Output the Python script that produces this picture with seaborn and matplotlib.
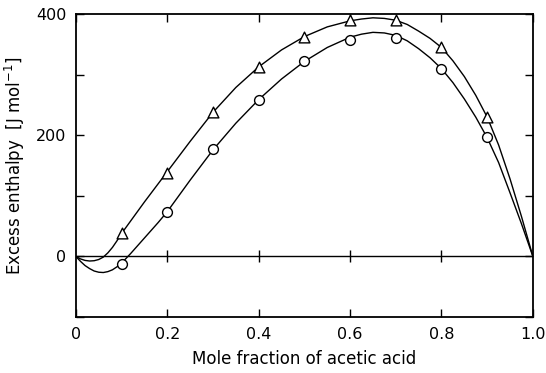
import numpy as np
import pandas as pd
import matplotlib
matplotlib.use("Agg")
import matplotlib.pyplot as plt
import seaborn as sns

# Measured points
x_pts = [0.1, 0.2, 0.3, 0.4, 0.5, 0.6, 0.7, 0.8, 0.9]
tri_pts = [38, 138, 239, 312, 363, 390, 390, 346, 231]
circ_pts = [-12, 73, 177, 259, 323, 357, 360, 310, 197]

# Fitted curves
tri_curve_x = [0, 0.01, 0.02, 0.03, 0.04, 0.05, 0.06, 0.07, 0.08, 0.09, 0.1, 0.125, 0.15, 0.175,
               0.2, 0.25, 0.3, 0.35, 0.4, 0.45, 0.5, 0.55, 0.6, 0.625, 0.65, 0.675, 0.7,
               0.725, 0.75, 0.775, 0.8, 0.825, 0.85, 0.875, 0.9, 0.925, 0.95, 0.975, 1.0]
tri_curve_y = [0, -4, -6.5, -7.5, -7, -5, -1, 6, 15, 26, 38, 64, 90, 115,
               140, 190, 238, 279, 313, 341, 363, 379, 389, 392, 394, 393, 390,
               383, 372, 360, 345, 323, 297, 266, 230, 184, 128, 66, 0]
circ_curve_x = [0, 0.01, 0.02, 0.03, 0.04, 0.05, 0.06, 0.07, 0.08, 0.09, 0.1, 0.11, 0.12, 0.14,
                0.16, 0.18, 0.2, 0.25, 0.3, 0.35, 0.4, 0.45, 0.5, 0.55, 0.6, 0.625, 0.65,
                0.675, 0.7, 0.725, 0.75, 0.775, 0.8, 0.825, 0.85, 0.875, 0.9, 0.925, 0.95, 0.975, 1.0]
circ_curve_y = [0, -8, -15, -20, -24, -26, -26.5, -25, -22, -17, -11, -3, 5, 22,
                39, 56, 74, 126, 176, 220, 259, 293, 322, 345, 362, 367, 370,
                369, 365, 356, 343, 328, 310, 287, 260, 230, 196, 155, 105, 54, 0]

x_ticks = [0, 0.2, 0.4, 0.6, 0.8, 1.0]
x_ticklabels = ["0", "0.2", "0.4", "0.6", "0.8", "1.0"]
y_ticks = [0, 200, 400]
y_minor = [-100, 100, 300]

sns.set_theme(style="ticks")
plt.rcParams['font.family'] = ['DejaVu Sans']
plt.rcParams['text.color'] = 'black'
plt.rcParams['axes.labelcolor'] = 'black'
plt.rcParams['xtick.color'] = 'black'
plt.rcParams['ytick.color'] = 'black'

fig = plt.figure(figsize=(5.46, 3.73), dpi=100)
ax = fig.add_axes([0.139, 0.150, 0.837, 0.812])

tri_df = pd.DataFrame({"x": tri_curve_x, "y": tri_curve_y})
circ_df = pd.DataFrame({"x": circ_curve_x, "y": circ_curve_y})
sns.lineplot(data=tri_df, x="x", y="y", ax=ax, color="black", lw=1.0, sort=False)
sns.lineplot(data=circ_df, x="x", y="y", ax=ax, color="black", lw=1.0, sort=False)

ax.axhline(0, color="black", lw=1.0, zorder=1)
ax.scatter(x_ticks[1:-1], [0] * 4, marker="|", s=70, color="black", lw=1.0, zorder=2)

pts = pd.DataFrame({"x": x_pts, "tri": tri_pts, "circ": circ_pts})
sns.scatterplot(data=pts, x="x", y="tri", ax=ax, marker="^", s=60,
                facecolor="white", edgecolor="black", linewidth=1.0, zorder=5)
sns.scatterplot(data=pts, x="x", y="circ", ax=ax, marker="o", s=50,
                facecolor="white", edgecolor="black", linewidth=1.0, zorder=5)

ax.set_xlim(0, 1.0)
ax.set_ylim(-100, 400)
ax.set_xticks(x_ticks)
ax.set_xticklabels(x_ticklabels)
ax.set_yticks(y_ticks)
ax.set_yticks(y_minor, minor=True)
ax.tick_params(axis="both", which="both", direction="in", top=True, right=True,
               length=6, width=1.0, color="black", labelcolor="black",
               labelsize=11.5, pad=7)
ax.tick_params(axis="y", which="major", labelright=False)
for s in ax.spines.values():
    s.set_linewidth(1.3)
    s.set_color("black")

ax.set_xlabel("Mole fraction of acetic acid", fontsize=12, labelpad=6, color="black")
ax.set_ylabel("Excess enthalpy  [J mol$^{-1}$]", fontsize=12, labelpad=6, color="black")

fig.savefig("out.png", dpi=100)
